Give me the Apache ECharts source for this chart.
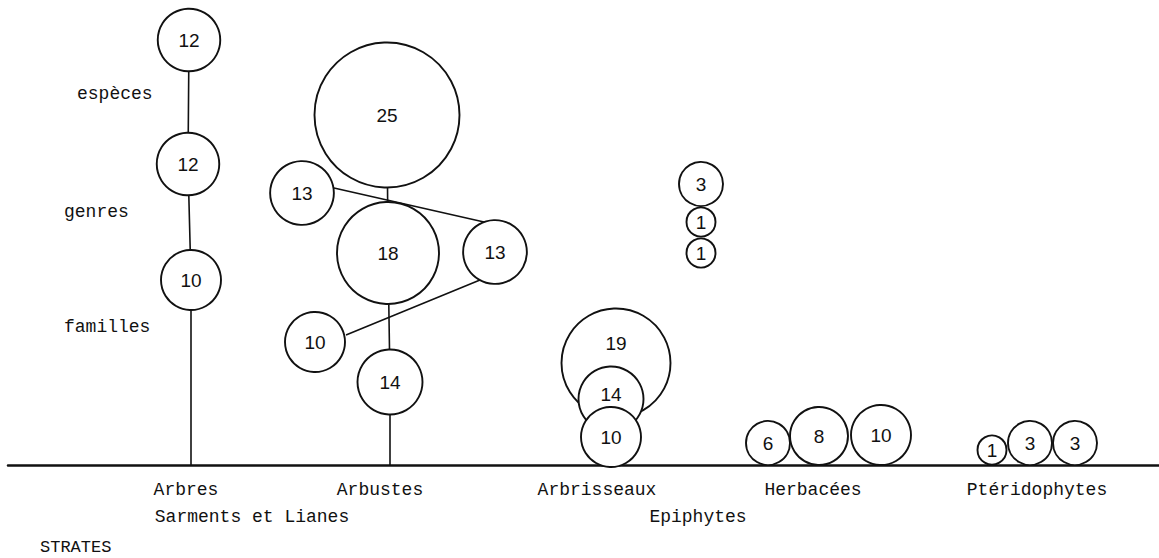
<!DOCTYPE html>
<html>
<head>
    <meta charset="UTF-8">
    <title>STRATES</title>
    <script src="https://cdn.jsdelivr.net/npm/echarts@6/dist/echarts.min.js"></script>
    <style>
        body { margin: 0; background: #fff; }
    </style>
</head>
<body>
<div id="strates" style="width:1159px;height:558px;"></div>
<script>
    // strates (ligne du haut et ligne du bas sous l'axe)
    var strates = ['Arbres', 'Arbustes', 'Arbrisseaux', 'Herbacées', 'Ptéridophytes'];
    var stratesX = [186, 380, 597, 813, 1037];
    var strates2 = ['Sarments et Lianes', 'Epiphytes'];
    var strates2X = [252, 698];

    // [x, hauteur au-dessus du sol, nombre]
    var arbres      = [[189, 425, 12], [188, 301, 12], [191, 185, 10]];
    var arbustes    = [[387, 350, 25], [388, 212, 18], [390, 83, 14]];
    var sarments    = [[302, 272, 13], [495, 213, 13], [315, 123, 10]];
    var arbrisseaux = [[616, 102, 19], [611, 66, 14], [611, 28, 10]];
    var epiphytes   = [[701, 281, 3], [701, 243, 1], [701, 212, 1]];
    var herbacees   = [[768, 22, 6], [819, 29, 8], [881, 30, 10]];
    var pterido     = [[992, 15, 1], [1030, 22, 3], [1075, 22, 3]];

    // tracé des liaisons des sarments (d'un bord de cercle à l'autre)
    var sarmentsLien = [[334, 277], [484, 243], [480, 185], [346, 130]];

    // niveaux : espèces / genres / familles
    var niveaux = ['espèces', 'genres', 'familles'];
    var niveauxXY = [[77, 371], [64, 253], [64, 138]];

    // taille du cercle (diamètre) selon le nombre, échelle
    var tailleDomaine = [1, 3, 6, 8, 10, 14, 18, 19, 25];
    var tailleDiam    = [29, 44, 44, 58, 60, 65, 102, 109, 145];
    function taille(v) {
        for (var i = 1; i < tailleDomaine.length; i++) {
            if (v <= tailleDomaine[i]) {
                var t = (v - tailleDomaine[i - 1]) / (tailleDomaine[i] - tailleDomaine[i - 1]);
                return tailleDiam[i - 1] + t * (tailleDiam[i] - tailleDiam[i - 1]);
            }
        }
        return tailleDiam[tailleDiam.length - 1];
    }

    var ink = '#111';
    var mono = '"Liberation Mono", "DejaVu Sans Mono", monospace';

    var groupes = [arbres, arbustes, sarments, arbrisseaux, epiphytes, herbacees, pterido];
    var cercles = [];
    groupes.forEach(function (g) {
        g.forEach(function (p, i) {
            var item = {value: p};
            // cercle recouvert : chiffre dans la partie visible
            if (g === arbrisseaux && i === 0) item.label = {offset: [0, -20]};
            if (g === arbrisseaux && i === 1) item.label = {offset: [0, -5]};
            cercles.push(item);
        });
    });

    function ligne(pts) {
        return {
            type: 'line',
            data: pts.map(function (p) { return [p[0], p[1]]; }),
            symbol: 'none',
            z: 1,
            lineStyle: {color: ink, width: 1.6},
            emphasis: {disabled: true},
            silent: true
        };
    }

    var axeLabel = {
        margin: 16,
        fontFamily: mono,
        fontSize: 18,
        color: ink
    };

    var myChart = echarts.init(document.getElementById('strates'), null, {renderer: 'svg'});
    var option = {
        backgroundColor: '#fff',
        animation: false,
        title: {
            text: 'STRATES',
            left: 40,
            top: 539,
            padding: 0,
            textStyle: {fontFamily: mono, fontSize: 17, fontWeight: 'normal', color: ink}
        },
        grid: {left: 8, right: 0, top: 0, bottom: 93},
        xAxis: [{
            type: 'value',
            min: 8,
            max: 1159,
            splitLine: {show: false},
            axisTick: {show: false},
            axisLine: {show: true, onZero: false, lineStyle: {color: ink, width: 2.5}},
            axisLabel: Object.assign({
                customValues: stratesX,
                formatter: function (v) { return strates[stratesX.indexOf(v)]; }
            }, axeLabel)
        }, {
            type: 'value',
            min: 8,
            max: 1159,
            position: 'bottom',
            offset: 27,
            splitLine: {show: false},
            axisTick: {show: false},
            axisLine: {show: false},
            axisLabel: Object.assign({
                customValues: strates2X,
                formatter: function (v) { return strates2[strates2X.indexOf(v)]; }
            }, axeLabel)
        }],
        yAxis: {type: 'value', min: 0, max: 465, show: false},
        series: [
            ligne(arbres.concat([[191, 0]])),
            ligne(arbustes.concat([[390, 0]])),
            ligne(sarmentsLien),
            {
                type: 'scatter',
                z: 3,
                data: cercles,
                symbol: 'circle',
                symbolSize: function (val) { return taille(val[2]); },
                itemStyle: {color: '#fff', borderColor: ink, borderWidth: 1.9, opacity: 1},
                label: {
                    show: true,
                    position: 'inside',
                    formatter: function (p) { return p.value[2]; },
                    fontFamily: '"Liberation Sans", Arial, sans-serif',
                    fontSize: 19,
                    color: ink
                },
                emphasis: {disabled: true},
                silent: true
            },
            {
                type: 'scatter',
                z: 4,
                data: niveaux.map(function (n, i) {
                    return {name: n, value: niveauxXY[i]};
                }),
                symbolSize: 0,
                itemStyle: {color: 'transparent'},
                label: {
                    show: true,
                    position: 'right',
                    distance: 0,
                    formatter: '{b}',
                    fontFamily: mono,
                    fontSize: 18,
                    color: ink,
                    opacity: 1,
                    textBorderWidth: 0
                },
                emphasis: {disabled: true},
                silent: true
            }
        ]
    };

    myChart.setOption(option);
</script>
</body>
</html>
